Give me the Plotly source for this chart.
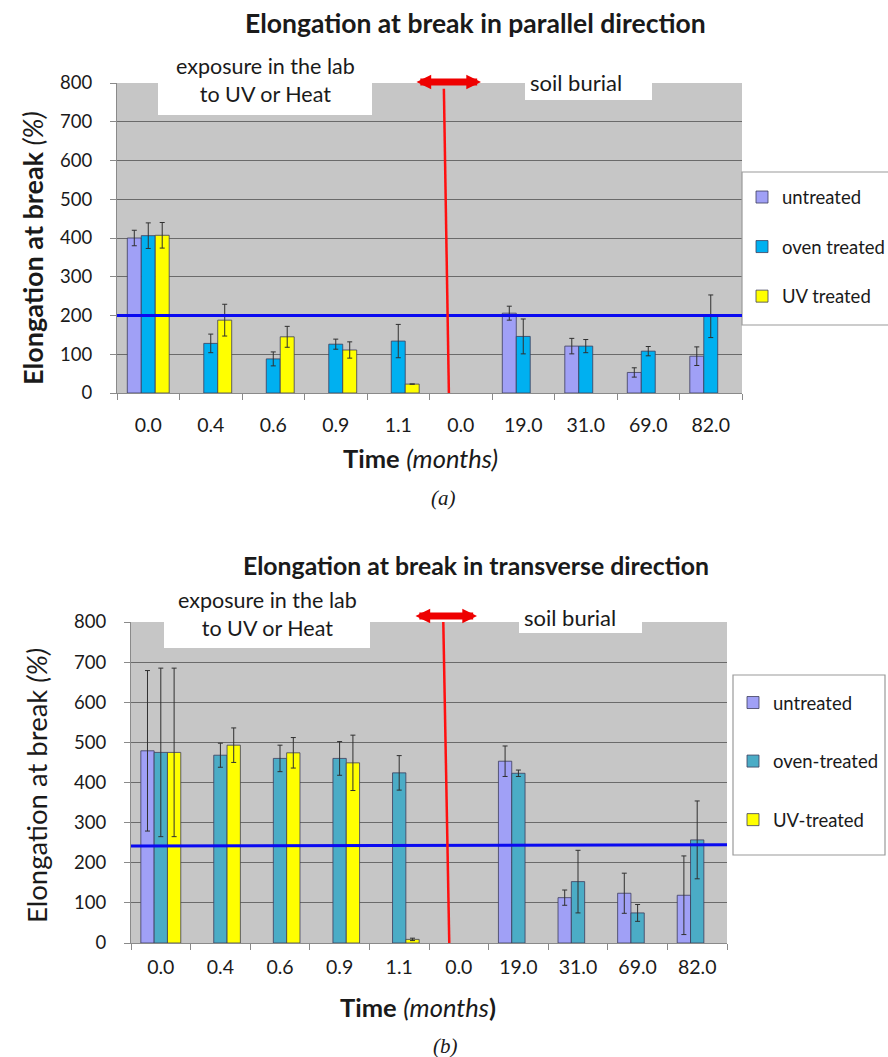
import plotly.graph_objects as go

# ---- data -------------------------------------------------------------
time_labels = ["0.0", "0.4", "0.6", "0.9", "1.1", "0.0", "19.0", "31.0", "69.0", "82.0"]

# (a) parallel direction
untreated_a = [400, None, None, None, None, None, 206, 121, 53, 95]
untreated_a_err = [20, None, None, None, None, None, 18, 20, 12, 24]
oven_a = [406, 128, 88, 126, 134, None, 146, 121, 108, 198]
oven_a_err = [33, 24, 18, 13, 43, None, 45, 17, 12, 55]
uv_a = [407, 188, 145, 111, 23, None, None, None, None, None]
uv_a_err = [33, 41, 27, 21, None, None, None, None, None, None]
threshold_a = [200, 200]

# (b) transverse direction
untreated_b = [479, None, None, None, None, None, 453, 113, 124, 119]
untreated_b_err = [200, None, None, None, None, None, 38, 19, 50, 98]
oven_b = [475, 468, 460, 460, 424, None, 423, 153, 75, 257]
oven_b_err = [210, 30, 33, 42, 43, None, 8, 78, 21, 97]
uv_b = [475, 493, 474, 449, 9, None, None, None, None, None]
uv_b_err = [210, 43, 38, 69, 3, None, None, None, None, None]
threshold_b = [242, 245]

names_a = ["untreated", "oven treated", "UV treated"]
names_b = ["untreated", "oven-treated", "UV-treated"]

# ---- style ------------------------------------------------------------
W, H = 888, 1057
FONT = "Lato"
TXT = "#1a1a1a"
LAV = "#a0a0f6"
CYAN = "#00b0f0"
TEAL = "#4bacc6"
YEL = "#ffff00"
GRID = "#6a6a6a"
AXC = "#8a8a8a"


def px(xp):
    return xp / W


def py(yp):
    return 1 - yp / H


x = list(range(len(time_labels)))

fig = go.Figure()


def add_bars(names, vals, errs, colors, xa, ya, leg):
    for name, v, e, c in zip(names, vals, errs, colors):
        fig.add_trace(go.Bar(
            x=x, y=v, name=name, xaxis=xa, yaxis=ya, legend=leg,
            legendgroup=leg + name,
            marker=dict(color=c, line=dict(color="#3c3c5c", width=0.8)),
            error_y=dict(type="data", array=e, visible=True,
                         color="#303030", thickness=1, width=2.5),
            hoverinfo="skip",
        ))


add_bars(names_a, [untreated_a, oven_a, uv_a],
         [untreated_a_err, oven_a_err, uv_a_err],
         [LAV, CYAN, YEL], "x", "y", "legend")
add_bars(names_b, [untreated_b, oven_b, uv_b],
         [untreated_b_err, oven_b_err, uv_b_err],
         [LAV, TEAL, YEL], "x2", "y2", "legend2")


def xaxis_cfg(dom, anchor, standoff):
    return dict(
        domain=dom, anchor=anchor, range=[-0.5, len(x) - 0.5],
        tickmode="array", tickvals=x, ticktext=time_labels, ticks="",
        ticklabelstandoff=standoff, automargin=False,
        showgrid=False, zeroline=False, showline=True,
        linecolor=AXC, linewidth=1,
        tickfont=dict(family=FONT, size=19.5, color=TXT),
        minor=dict(tickmode="linear", tick0=-0.5, dtick=1, ticks="outside",
                   ticklen=6, tickcolor=AXC, showgrid=False),
        fixedrange=True,
    )


def yaxis_cfg(dom, anchor):
    return dict(
        domain=dom, anchor=anchor, range=[0, 800], tick0=0, dtick=100,
        ticks="outside", ticklen=6, tickcolor=AXC, ticklabelstandoff=14,
        showgrid=True, gridcolor=GRID, gridwidth=1.3, automargin=False,
        zeroline=False, showline=True, linecolor=AXC, linewidth=1,
        tickfont=dict(family=FONT, size=18.5, color=TXT),
        fixedrange=True,
    )


shapes = []
# legend frames
shapes.append(dict(type="rect", xref="paper", yref="paper",
                   x0=px(742), x1=px(893), y0=py(325), y1=py(172),
                   fillcolor="white", line=dict(color="#9a9a9a", width=1.2),
                   layer="above"))
shapes.append(dict(type="rect", xref="paper", yref="paper",
                   x0=px(733), x1=px(885), y0=py(855), y1=py(675),
                   fillcolor="white", line=dict(color="#9a9a9a", width=1.2),
                   layer="above"))

# threshold lines
shapes.append(dict(type="line", xref="x", yref="y", x0=-0.5, x1=9.5,
                   y0=threshold_a[0], y1=threshold_a[1],
                   line=dict(color="#0a0af0", width=3), layer="above"))
shapes.append(dict(type="line", xref="x2", yref="y2", x0=-0.5, x1=9.5,
                   y0=threshold_b[0], y1=threshold_b[1],
                   line=dict(color="#0a0af0", width=3), layer="above"))

# divider between lab exposure and soil burial
shapes.append(dict(type="line", xref="x", yref="y", x0=4.73, y0=785,
                   x1=4.81, y1=0, line=dict(color="#ff1010", width=2.5),
                   layer="above"))
shapes.append(dict(type="line", xref="x2", yref="y2", x0=4.74, y0=800,
                   x1=4.84, y1=0, line=dict(color="#ff1010", width=2.5),
                   layer="above"))

# white label boxes
for (l, t, r, b) in [(158, 45, 372, 115), (525, 63, 652, 100),
                     (164, 582, 370, 648), (519, 599, 642, 633)]:
    shapes.append(dict(type="rect", xref="paper", yref="paper",
                       x0=px(l), x1=px(r), y0=py(b), y1=py(t),
                       fillcolor="white", line=dict(width=0), layer="above"))

ann = []


def text(xp, yp, s, size, **kw):
    d = dict(xref="paper", yref="paper", x=px(xp), y=py(yp), text=s,
             showarrow=False, xanchor="center", yanchor="middle",
             font=dict(family=kw.pop("family", FONT), size=size, color=TXT))
    d.update(kw)
    ann.append(d)


# titles
text(476, 23, "<b>Elongation at break in parallel direction</b>", 26.5)
text(476, 565, "<b>Elongation at break in transverse direction</b>", 24.8)
# axis titles
text(32, 248, "<b>Elongation at break </b><i>(%)</i>", 27, textangle=-90)
text(36, 786, "Elongation at break <i>(%)</i>", 27.5, textangle=-90)
text(420, 458, "<b>Time</b> <i>(months)</i>", 25.5)
text(418, 1007, "<b>Time</b> <i>(months</i><b>)</b>", 25.5)
# panel letters
text(443, 498, "<i>(a)</i>", 21, family="Liberation Serif")
text(445, 1046, "<i>(b)</i>", 21, family="Liberation Serif")
# phase labels
text(265, 80, "exposure in the lab<br>to UV or Heat", 21.5)
text(576, 82, "soil burial", 22)
text(267, 614, "exposure in the lab<br>to UV or Heat", 21.5)
text(570, 617, "soil burial", 22)

# double-headed red arrows
for (x0, x1, yy) in [(415, 481, 82), (414, 477, 616)]:
    ann.append(dict(xref="paper", yref="paper", x=px(x1), y=py(yy),
                    ax=-(x1 - x0), ay=0, axref="pixel", ayref="pixel",
                    text="", showarrow=True, arrowside="end+start",
                    arrowhead=2, startarrowhead=2, arrowwidth=7,
                    arrowsize=0.42, startarrowsize=0.42, arrowcolor="#ee0000"))

legend_common = dict(xanchor="left", yanchor="top", bgcolor="rgba(0,0,0,0)",
                     borderwidth=0, font=dict(family=FONT, size=18.5, color=TXT),
                     itemclick=False, itemdoubleclick=False)

fig.update_layout(
    width=W, height=H,
    margin=dict(l=0, r=0, t=0, b=0, pad=0, autoexpand=False),
    paper_bgcolor="white", plot_bgcolor="#c6c6c6",
    barmode="group", bargap=0.33, bargroupgap=0,
    xaxis=xaxis_cfg([px(117), px(742)], "y", 15),
    yaxis=yaxis_cfg([py(393), py(83)], "x"),
    xaxis2=xaxis_cfg([px(131), px(727)], "y2", 7),
    yaxis2=yaxis_cfg([py(943), py(622)], "x2"),
    legend=dict(x=px(742), y=py(178.5), tracegroupgap=22.5, **legend_common),
    legend2=dict(x=px(733), y=py(684), tracegroupgap=31.5, **legend_common),
    shapes=shapes, annotations=ann,
    font=dict(family=FONT, color=TXT),
)

fig.write_html("out.html")
